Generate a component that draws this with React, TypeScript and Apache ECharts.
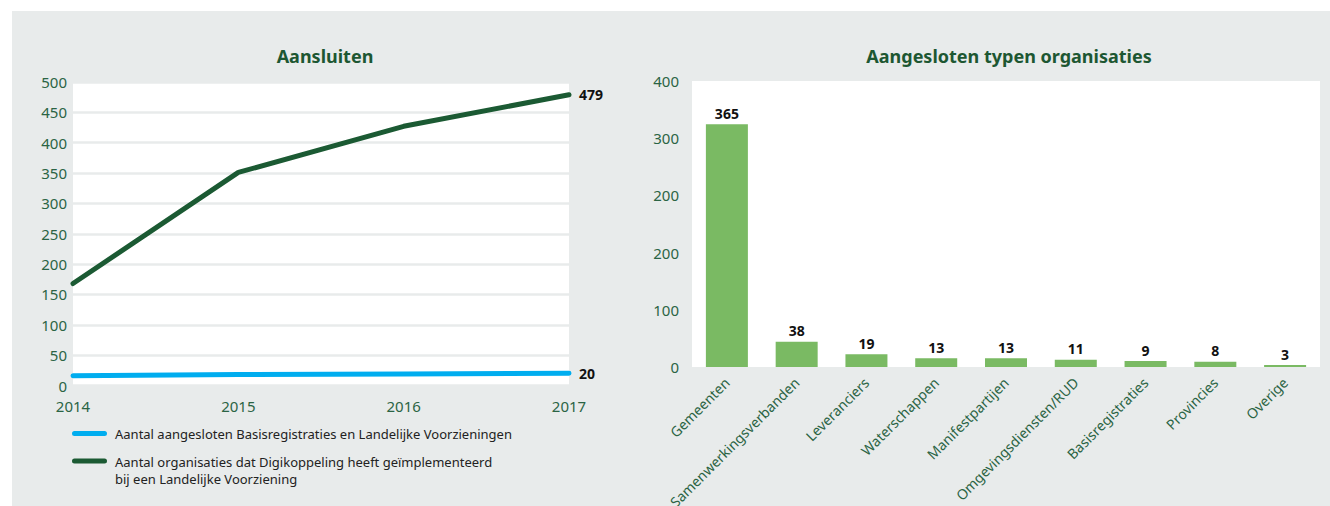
import React, { useEffect, useRef } from "react";
import * as echarts from "echarts";

const years = ["2014", "2015", "2016", "2017"];
const basisValues = [16, 18, 19, 20];
const orgValues = [168, 351, 427, 479];
const lineTitle = "Aansluiten";
const basisName = "Aantal aangesloten Basisregistraties en Landelijke Voorzieningen";
const orgNameLines = ["Aantal organisaties dat Digikoppeling heeft geïmplementeerd", "bij een Landelijke Voorziening"];

const barTitle = "Aangesloten typen organisaties";
const orgTypes = [
  "Gemeenten",
  "Samenwerkingsverbanden",
  "Leveranciers",
  "Waterschappen",
  "Manifestpartijen",
  "Omgevingsdiensten/RUD",
  "Basisregistraties",
  "Provincies",
  "Overige",
];
const orgTypeValues = [365, 38, 19, 13, 13, 11, 9, 8, 3];
// tick labels as printed on the reference's bar-chart axis (bottom to top)
const barAxisTicks = ["0", "100", "200", "200", "300", "400"];

const FONT = "'Noto Sans', 'Open Sans', sans-serif";
const GREEN_TEXT = "#2b6444";
const TITLE_GREEN = "#1d5732";
const DARK_LINE = "#1b5a33";
const BLUE_LINE = "#00adef";
const BAR_GREEN = "#7aba63";
const PANEL = "#e8ebeb";

export default function App() {
  const ref = useRef<HTMLDivElement>(null);
  useEffect(() => {
    if (!ref.current) return;
    const chart = echarts.init(ref.current, null, { renderer: "svg" });
    chart.setOption({
      animation: false,
      textStyle: { fontFamily: FONT },
      title: [
        {
          text: lineTitle,
          left: 320,
          top: 42,
          textAlign: "center",
          textStyle: { color: TITLE_GREEN, fontSize: 18, fontWeight: "bold", fontFamily: FONT },
        },
        {
          text: barTitle,
          left: 1004,
          top: 42,
          textAlign: "center",
          textStyle: { color: TITLE_GREEN, fontSize: 18, fontWeight: "bold", fontFamily: FONT },
        },
      ],
      graphic: [
        {
          type: "rect",
          z: -10,
          silent: true,
          shape: { x: 12, y: 11, width: 1318, height: 495 },
          style: { fill: PANEL },
        },
        {
          type: "rect",
          z: -9,
          silent: true,
          shape: { x: 73, y: 82, width: 496, height: 303.5 },
          style: { fill: "#ffffff" },
        },
        {
          type: "rect",
          z: -9,
          silent: true,
          shape: { x: 692, y: 81, width: 628, height: 286 },
          style: { fill: "#ffffff" },
        },
        {
          type: "rect",
          shape: { x: 72, y: 431, width: 35, height: 5, r: 2.5 },
          style: { fill: BLUE_LINE },
        },
        {
          type: "text",
          x: 115,
          y: 434,
          style: {
            text: basisName,
            fill: "#222",
            font: `13px ${FONT}`,
            verticalAlign: "middle",
          },
        },
        {
          type: "rect",
          shape: { x: 72, y: 458.5, width: 35, height: 5, r: 2.5 },
          style: { fill: DARK_LINE },
        },
        {
          type: "text",
          x: 115,
          y: 454,
          style: {
            text: orgNameLines.join("\n"),
            fill: "#222",
            font: `13px ${FONT}`,
            lineHeight: 16.5,
            verticalAlign: "top",
          },
        },
      ],
      grid: [
        { left: 73, top: 82, width: 496, height: 303.5, outerBoundsMode: "none", containLabel: false },
        { left: 692, top: 81, width: 628, height: 286, outerBoundsMode: "none", containLabel: false },
      ],
      xAxis: [
        {
          gridIndex: 0,
          type: "category",
          data: years,
          boundaryGap: false,
          axisLine: { show: false },
          axisTick: { show: false },
          axisLabel: { color: GREEN_TEXT, fontSize: 15, margin: 13, fontFamily: FONT },
        },
        {
          gridIndex: 1,
          type: "category",
          data: orgTypes,
          axisLine: { show: false },
          axisTick: { show: false },
          axisLabel: {
            color: GREEN_TEXT,
            fontSize: 14,
            rotate: 45,
            margin: 13,
            interval: 0,
            fontFamily: FONT,
          },
        },
      ],
      yAxis: [
        {
          gridIndex: 0,
          type: "value",
          min: 0,
          max: 500,
          interval: 50,
          axisLine: { show: false },
          axisTick: { show: false },
          axisLabel: { color: GREEN_TEXT, fontSize: 15, margin: 6, fontFamily: FONT },
          splitLine: { show: true, lineStyle: { color: PANEL, width: 2.5 } },
        },
        {
          gridIndex: 1,
          type: "value",
          min: 0,
          max: 430,
          interval: 86,
          axisLine: { show: false },
          axisTick: { show: false },
          axisLabel: {
            color: GREEN_TEXT,
            fontSize: 15,
            margin: 13,
            fontFamily: FONT,
            formatter: (_v: number, i: number) => barAxisTicks[i] ?? "",
          },
          splitLine: { show: false },
        },
      ],
      series: [
        {
          type: "line",
          name: basisName,
          xAxisIndex: 0,
          yAxisIndex: 0,
          data: basisValues,
          symbol: "none",
          lineStyle: { color: BLUE_LINE, width: 5, cap: "round" },
          itemStyle: { color: BLUE_LINE },
          endLabel: {
            show: true,
            formatter: "{c}",
            color: "#111",
            fontWeight: "bold",
            fontSize: 14,
            distance: 10,
            fontFamily: FONT,
          },
        },
        {
          type: "line",
          name: orgNameLines.join(" "),
          xAxisIndex: 0,
          yAxisIndex: 0,
          data: orgValues,
          symbol: "none",
          lineStyle: { color: DARK_LINE, width: 5, cap: "round", join: "round" },
          itemStyle: { color: DARK_LINE },
          endLabel: {
            show: true,
            formatter: "{c}",
            color: "#111",
            fontWeight: "bold",
            fontSize: 14,
            distance: 10,
            fontFamily: FONT,
          },
        },
        {
          type: "bar",
          xAxisIndex: 1,
          yAxisIndex: 1,
          data: orgTypeValues,
          barWidth: 42,
          itemStyle: { color: BAR_GREEN },
          label: {
            show: true,
            position: "top",
            distance: 4,
            color: "#111",
            fontWeight: "bold",
            fontSize: 14,
            fontFamily: FONT,
          },
        },
      ],
    });
    return () => chart.dispose();
  }, []);
  return (
    <div
      ref={ref}
      style={{ position: "absolute", left: 0, top: 0, width: 1330, height: 506 }}
    />
  );
}
